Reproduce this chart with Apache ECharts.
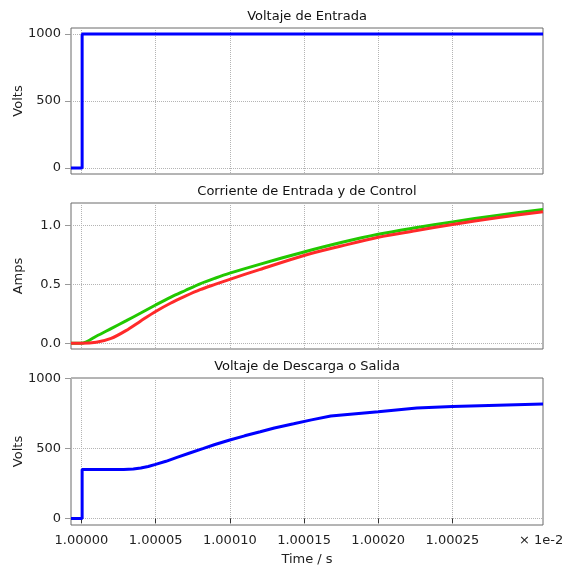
<!DOCTYPE html>
<html>
<head>
<meta charset="utf-8">
<script src="https://cdn.jsdelivr.net/npm/echarts@6/dist/echarts.min.js"></script>
<style>html,body{margin:0;padding:0;background:#fff;}#c{width:567px;height:566px;}</style>
</head>
<body>
<div id="c"></div>
<script>
// Time axis in units of 1e-2 s
var xTicks = [1.00000, 1.00005, 1.00010, 1.00015, 1.00020, 1.00025];
var titles = ['Voltaje de Entrada', 'Corriente de Entrada y de Control', 'Voltaje de Descarga o Salida'];

// Panel 1: input voltage
var vinTime = [0.999993, 1.0000005, 1.0000005, 1.000311];
var vinVal  = [0, 0, 1000, 1000];

// Panel 2: currents
var curTime = [0.999993, 1.00000, 1.00001, 1.00002, 1.00003, 1.00004, 1.00005, 1.00006, 1.00007, 1.00008, 1.00009, 1.00010, 1.00012, 1.00015, 1.000175, 1.00020, 1.000225, 1.00025, 1.00028, 1.000311];
var inCurrent   = [0, 0, 0.06, 0.125, 0.19, 0.257, 0.325, 0.39, 0.448, 0.505, 0.552, 0.595, 0.67, 0.775, 0.855, 0.925, 0.98, 1.03, 1.085, 1.136];
var ctrlCurrent = [0, 0, 0.009, 0.042, 0.108, 0.19, 0.27, 0.34, 0.40, 0.455, 0.50, 0.543, 0.625, 0.745, 0.825, 0.9, 0.955, 1.008, 1.065, 1.116];

// Panel 3: output voltage
var voutTime = [0.999993, 1.0000005, 1.0000005, 1.0000285, 1.000035, 1.00004, 1.000045, 1.00005, 1.000057, 1.0000644, 1.000073, 1.0000823, 1.00009, 1.00010, 1.00011, 1.0001205, 1.00013, 1.000143, 1.000155, 1.000168, 1.00020, 1.000226, 1.00025, 1.000311];
var voutVal  = [0, 0, 350, 350, 353, 360, 371, 386, 408, 436, 467, 500, 528, 560, 590, 619, 646, 676, 704, 731, 762, 788, 800, 818];

function zip(a, b) { return a.map(function (t, i) { return [t, b[i]]; }); }

var font = 'DejaVu Sans';
var grids = [
  {left: 71, right: 24, top: 28, height: 146},
  {left: 71, right: 24, top: 203, height: 146},
  {left: 71, right: 24, top: 378, height: 147}
];
grids.forEach(function (g) { g.show = true; g.borderColor = '#6a6a6a'; g.borderWidth = 1; g.backgroundColor = 'transparent'; g.containLabel = false; g.outerBoundsMode = 'none'; });

var split = {show: true, lineStyle: {color: '#b4b4b4', type: 'dotted', width: 1}};

function xAxis(i) {
  var last = i === 2;
  return {
    type: 'value', gridIndex: i, min: 0.999993, max: 1.000311,
    axisLine: {show: false},
    axisTick: {show: last, length: 5, inside: false, customValues: xTicks, lineStyle: {color: '#333'}},
    axisLabel: {show: last, customValues: xTicks, margin: 9, fontSize: 13, color: '#222', fontFamily: font,
      formatter: function (v) { return v.toFixed(5); }},
    splitLine: split,
    name: last ? 'Time / s' : '', nameLocation: 'middle', nameGap: 28, nameMoveOverlap: false,
    nameTextStyle: {fontSize: 13, color: '#222', fontFamily: font}
  };
}
function yAxis(i, min, max, ticks, name, fmt) {
  return {
    type: 'value', gridIndex: i, min: min, max: max,
    axisLine: {show: false},
    axisTick: {show: true, length: 6, inside: false, customValues: ticks, lineStyle: {color: '#999'}},
    axisLabel: {customValues: ticks, margin: 10, fontSize: 13, color: '#222', fontFamily: font, formatter: fmt},
    splitLine: split,
    name: name, nameLocation: 'middle', nameGap: 46, nameMoveOverlap: false,
    nameTextStyle: {fontSize: 13, color: '#222', fontFamily: font}
  };
}

var chart = echarts.init(document.getElementById('c'));
chart.setOption({
  animation: false,
  backgroundColor: '#fff',
  textStyle: {fontFamily: font},
  title: titles.map(function (t, i) {
    return {text: t, left: 307, textAlign: 'center', top: [10, 185, 360][i], padding: 0,
      textStyle: {fontSize: 13, fontWeight: 'normal', color: '#111', fontFamily: font}};
  }),
  grid: grids,
  xAxis: [xAxis(0), xAxis(1), xAxis(2)],
  yAxis: [
    yAxis(0, -44, 1045, [0, 500, 1000], 'Volts', function (v) { return String(v); }),
    yAxis(1, -0.048, 1.19, [0, 0.5, 1.0], 'Amps', function (v) { return v.toFixed(1); }),
    yAxis(2, -47, 1003, [0, 500, 1000], 'Volts', function (v) { return String(v); })
  ],
  graphic: [{type: 'text', left: 519, top: 534, style: {text: '× 1e-2', fontSize: 13, fill: '#222', fontFamily: font}}],
  series: [
    {type: 'line', xAxisIndex: 0, yAxisIndex: 0, data: zip(vinTime, vinVal), showSymbol: false, lineStyle: {color: '#0000ff', width: 3}},
    {type: 'line', xAxisIndex: 1, yAxisIndex: 1, data: zip(curTime, inCurrent), showSymbol: false, smooth: 0.3, lineStyle: {color: '#22c800', width: 3}},
    {type: 'line', xAxisIndex: 1, yAxisIndex: 1, data: zip(curTime, ctrlCurrent), showSymbol: false, smooth: 0.3, lineStyle: {color: '#ff2a2a', width: 3}},
    {type: 'line', xAxisIndex: 2, yAxisIndex: 2, data: zip(voutTime, voutVal), showSymbol: false, lineStyle: {color: '#0000ff', width: 3}}
  ]
});
</script>
</body>
</html>
